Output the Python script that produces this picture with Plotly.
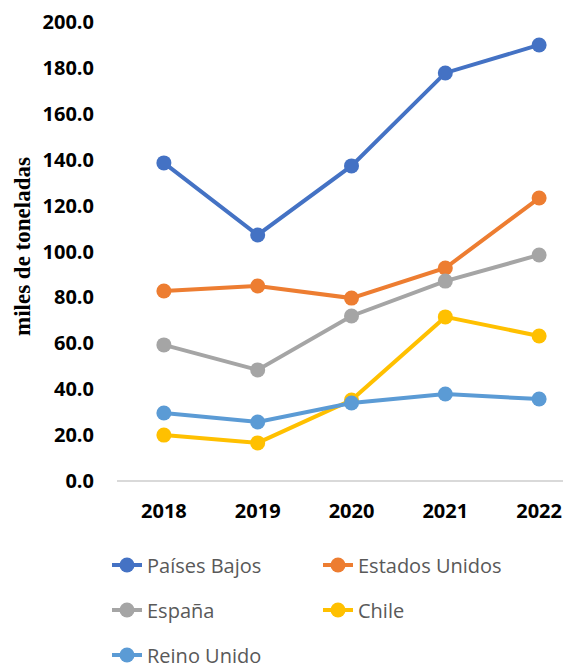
import plotly.graph_objects as go

years = ["2018", "2019", "2020", "2021", "2022"]
paises_bajos = [138.6, 107.2, 137.3, 177.8, 190.0]
estados_unidos = [82.8, 85.0, 79.7, 92.8, 123.3]
espana = [59.3, 48.4, 71.9, 87.1, 98.5]
chile = [20.0, 16.6, 35.3, 71.5, 63.2]
reino_unido = [29.6, 25.7, 34.0, 37.9, 35.7]
y_ticks = [0, 20, 40, 60, 80, 100, 120, 140, 160, 180, 200]

# page body has an 8px margin, so the figure is drawn 8px smaller and shifted
W, H = 563, 655
L, R, T, B = 109, 0, 14, 182

series = [
    ("Países Bajos", paises_bajos, "#4472C4", "legend"),
    ("Estados Unidos", estados_unidos, "#ED7D31", "legend"),
    ("España", espana, "#A5A5A5", "legend2"),
    ("Chile", chile, "#FFC000", "legend2"),
    ("Reino Unido", reino_unido, "#5B9BD5", "legend3"),
]

fig = go.Figure()
for name, vals, color, lg in series:
    fig.add_trace(go.Scatter(
        x=list(range(len(years))), y=vals, name=name, mode="lines+markers",
        line=dict(color=color, width=4),
        marker=dict(color=color, size=15),
        legend=lg,
    ))

legend_style = dict(
    orientation="h", xref="container", yref="container",
    xanchor="left", yanchor="middle", entrywidth=166, entrywidthmode="pixels",
    font=dict(family="Open Sans, sans-serif", size=20, color="#595959"),
    bgcolor="rgba(0,0,0,0)", itemwidth=30,
)

tick_font = dict(family="Open Sans, sans-serif", size=20, color="black", weight="bold")

fig.update_layout(
    width=W, height=H,
    margin=dict(l=L, r=R, t=T, b=B),
    paper_bgcolor="white", plot_bgcolor="white",
    showlegend=True,
    legend=dict(x=99 / W, y=1 - 557 / H, **legend_style),
    legend2=dict(x=99 / W, y=1 - 602 / H, **legend_style),
    legend3=dict(x=99 / W, y=1 - 647 / H, **legend_style),
    xaxis=dict(
        range=[-0.5, 4.34], tickmode="array",
        tickvals=list(range(len(years))), ticktext=years,
        showgrid=False, zeroline=False, showline=False,
        ticklabelstandoff=16, tickfont=tick_font, automargin=False,
    ),
    yaxis=dict(
        range=[0, 200], tickmode="array", tickvals=y_ticks,
        ticktext=[f"{v:.1f}" for v in y_ticks],
        showgrid=False, zeroline=True, zerolinecolor="#D9D9D9", zerolinewidth=2,
        ticklabelstandoff=22, tickfont=tick_font, automargin=False,
    ),
    annotations=[dict(
        text="<b>miles de toneladas</b>", textangle=-90,
        xref="paper", yref="paper", x=(14 - L) / (W - L - R), y=(H - B - 239) / (H - T - B),
        xanchor="center", yanchor="middle", showarrow=False,
        font=dict(family="Liberation Serif, serif", size=23, color="black"),
    )],
)

fig.write_html("out.html")
